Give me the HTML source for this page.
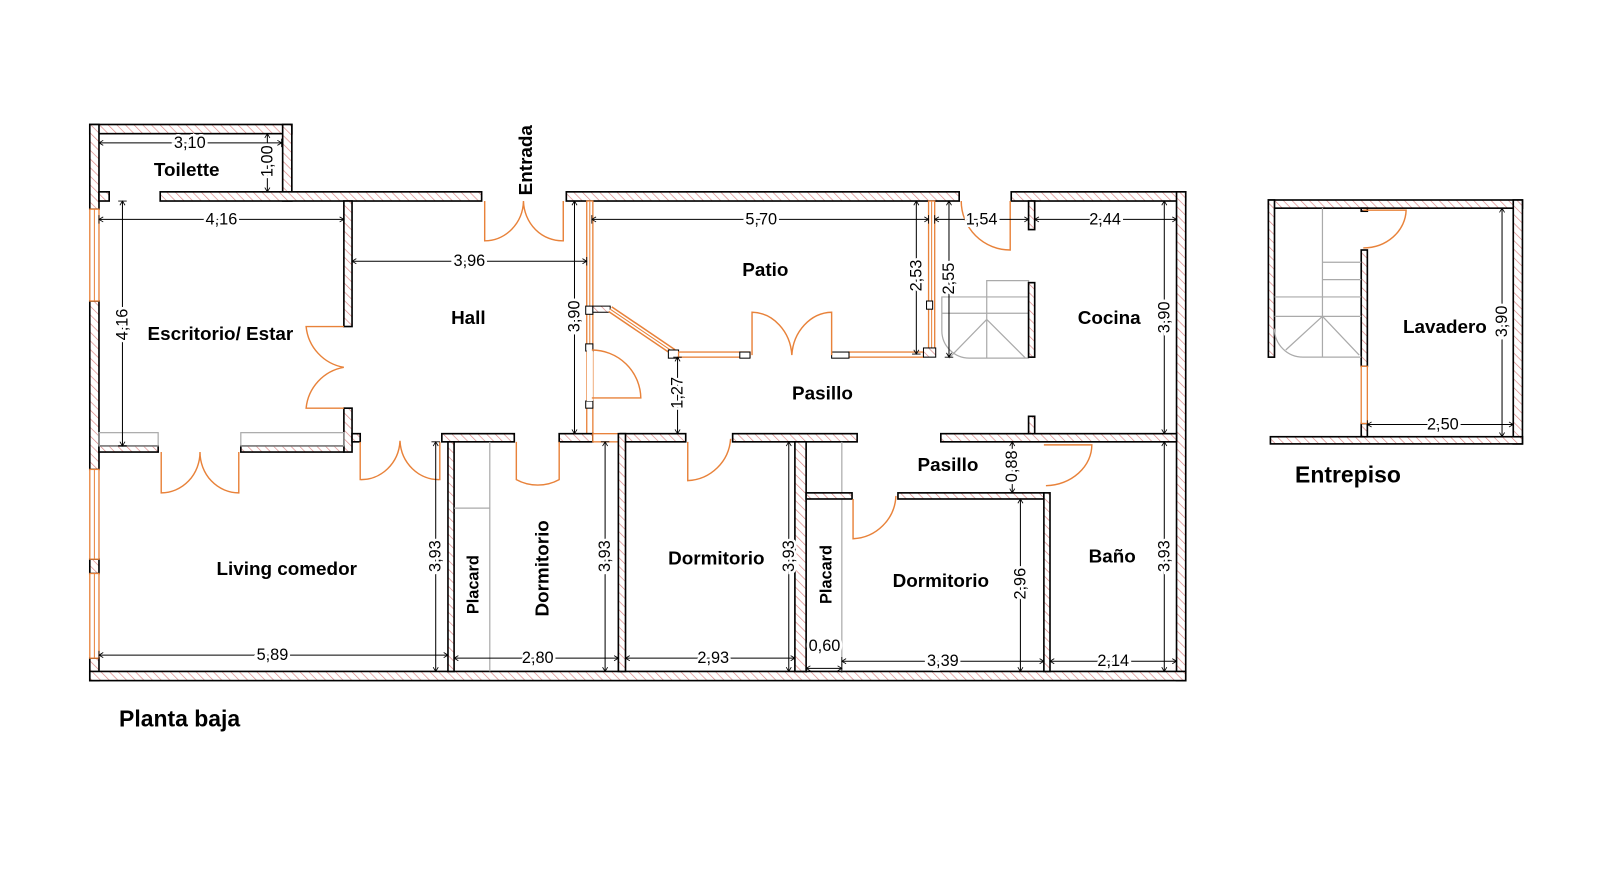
<!DOCTYPE html>
<html><head><meta charset="utf-8"><style>
html,body{margin:0;padding:0;background:#fff;}
svg{display:block;}
text{font-family:"Liberation Sans",Arial,sans-serif;}
.w{fill:url(#h);stroke:#000;stroke-width:1.6;}
.win{fill:#fff;stroke:#e8823a;stroke-width:1.3;}
.d{fill:none;stroke:#e8823a;stroke-width:1.4;}
.g{fill:none;stroke:#aaa;stroke-width:1.2;}
.dim{stroke:#000;stroke-width:1;fill:none;marker-start:url(#a);marker-end:url(#a);}
.lb{font-weight:bold;font-size:18.5px;text-anchor:middle;dominant-baseline:central;}
.dt{font-size:16px;text-anchor:middle;dominant-baseline:central;stroke:#fff;stroke-width:5px;paint-order:stroke;fill:#000;}
</style></head><body>
<svg width="1600" height="880" viewBox="0 0 1568 862.4" xmlns="http://www.w3.org/2000/svg">
<defs>
<pattern id="h" patternUnits="userSpaceOnUse" width="6" height="6" patternTransform="rotate(-45)">
<rect width="6" height="6" fill="#fff"/><line x1="0" y1="0" x2="0" y2="6" stroke="#d98585" stroke-width="1.3"/></pattern>
<marker id="a" viewBox="-6 -6 12 12" markerWidth="10" markerHeight="10" orient="auto-start-reverse" markerUnits="userSpaceOnUse"><path d="M-5,-3 L0,0 L-5,3 M0,-5 L0,5" stroke="#000" stroke-width="1" fill="none"/></marker>
</defs>

<!-- OUTER WALLS -->
<rect class="w" x="88" y="122" width="198" height="9"/>
<rect class="w" x="277" y="122" width="9" height="75"/>
<rect class="w" x="88" y="122" width="9" height="83"/>
<rect class="w" x="88" y="295" width="9" height="165"/>
<rect class="w" x="88" y="548" width="9" height="14"/>
<rect class="w" x="88" y="645" width="9" height="22"/>
<rect class="win" x="88" y="205" width="9" height="90"/><line x1="92.5" y1="205" x2="92.5" y2="295" stroke="#e8823a"/>
<rect class="win" x="88" y="460" width="9" height="88"/><line x1="92.5" y1="460" x2="92.5" y2="548" stroke="#e8823a"/>
<rect class="win" x="88" y="562" width="9" height="83"/><line x1="92.5" y1="562" x2="92.5" y2="645" stroke="#e8823a"/>
<rect class="w" x="97" y="188" width="10" height="9"/>
<rect class="w" x="157" y="188" width="315" height="9"/>
<rect class="w" x="555" y="188" width="385" height="9"/>
<rect class="w" x="991" y="188" width="171" height="9"/>
<rect class="w" x="1153" y="188" width="9" height="479"/>
<rect class="w" x="88" y="658" width="1074" height="9"/>

<!-- Escritorio / hall -->
<rect class="w" x="337" y="197" width="8" height="123"/>
<rect class="w" x="337" y="400" width="8" height="43"/>
<rect class="w" x="345" y="425" width="8" height="8"/>
<path class="d" d="M337,320 L300,320 A45,45 0 0 0 337,360 M337,400 L300,400 A45,45 0 0 1 337,360"/>
<rect class="w" x="97" y="437" width="58" height="6"/>
<rect class="w" x="236" y="437" width="101" height="6"/>
<rect x="97" y="424" width="58" height="13" class="g"/>
<rect x="236" y="424" width="101" height="13" class="g"/>
<path class="d" d="M158,443 L158,483 A38,40 0 0 0 196,443 M234,443 L234,483 A38,40 0 0 1 196,443"/>
<path class="d" d="M353,433 L353,470 A38,40 0 0 0 392,432 M431,433 L431,470 A38,40 0 0 1 392,432"/>
<!-- Entrada door -->
<path class="d" d="M475,197 L475,236 A38,40 0 0 0 513,197 M552,197 L552,236 A38,40 0 0 1 513,197"/>

<!-- Hall right wall / window -->
<rect class="win" x="575" y="197" width="6" height="228"/><line x1="578" y1="197" x2="578" y2="343" stroke="#e8823a"/>
<rect x="574" y="300" width="7" height="8" fill="#fff" stroke="#000"/>
<rect x="574" y="337" width="7" height="7" fill="#fff" stroke="#000"/>
<rect x="574" y="393" width="7" height="7" fill="#fff" stroke="#000"/>
<rect x="575" y="343" width="6" height="50" fill="#fff"/>
<path class="d" d="M580,343 A48,48 0 0 1 628,390 L580,390"/>
<rect class="w" x="548" y="425" width="33" height="8"/>
<rect class="win" x="581" y="425" width="27" height="8"/>
<!-- Patio -->
<rect x="581" y="300" width="17" height="6" fill="url(#h)" stroke="#000"/>
<path d="M598,303 L660,345" stroke="#e8823a" stroke-width="7"/><path d="M598,303 L660,345" stroke="#fff" stroke-width="4"/><path d="M598,303 L660,345" stroke="#e8823a" stroke-width="1"/>
<rect x="655" y="343" width="10" height="8" fill="#fff" stroke="#000"/>
<rect class="win" x="665" y="345" width="70" height="5"/>
<rect x="725" y="345" width="10" height="6" fill="#fff" stroke="#000"/>
<rect class="win" x="832" y="345" width="73" height="5"/>
<rect x="815" y="345" width="17" height="6" fill="#fff" stroke="#000"/>
<path class="d" d="M737,348 L737,306 A40,45 0 0 1 776,348 M815,348 L815,306 A40,45 0 0 0 776,348"/>
<rect class="win" x="910" y="197" width="6" height="150"/><line x1="913" y1="197" x2="913" y2="347" stroke="#e8823a"/>
<rect x="908" y="295" width="6" height="8" fill="#fff" stroke="#000"/>
<rect x="905" y="341" width="12" height="9" fill="url(#h)" stroke="#000"/>
<!-- Cocina door -->
<path class="d" d="M990,197 L990,245 A48,48 0 0 1 942,197"/>
<rect class="w" x="1008" y="197" width="6" height="28"/>
<!-- stair -->
<path class="g" d="M967,291 L967,275 L1008,275 L1008,291 M923,291 L1008,291 L1008,351 L950,351 A27,27 0 0 1 923,324 Z M923,307 L1008,307 M967,291 L967,351 M967,313 L930,351 M967,313 L1005,351"/>
<rect class="w" x="1008" y="277" width="6" height="73"/>

<!-- Pasillo bottom walls -->
<rect class="w" x="433" y="425" width="71" height="8"/>
<rect class="w" x="608" y="425" width="64" height="8"/>
<rect class="w" x="718" y="425" width="122" height="8"/>
<rect class="w" x="922" y="425" width="231" height="8"/>
<rect class="w" x="1008" y="408" width="6" height="17"/>
<path class="d" d="M506,433 L506,470 A42,40 0 0 0 548,470 L548,433"/>
<path class="d" d="M674,433 L674,471 A44,44 0 0 0 716,430"/>
<!-- rooms vertical walls -->
<rect class="w" x="439" y="433" width="6" height="225"/>
<line class="g" x1="480" y1="433" x2="480" y2="658"/><line class="g" x1="445" y1="498" x2="480" y2="498"/>
<rect class="w" x="606" y="425" width="7" height="233"/>
<rect class="w" x="779" y="433" width="11" height="225"/>
<line class="g" x1="825" y1="433" x2="825" y2="658"/>
<rect class="w" x="790" y="483" width="45" height="6"/>
<path class="d" d="M836,489 L836,528 A44,44 0 0 0 878,486"/>
<rect class="w" x="880" y="483" width="143" height="6"/>
<rect class="w" x="1023" y="483" width="6" height="175"/>
<path class="d" d="M1023,436 L1070,436 A47,40 0 0 1 1025,476"/>

<!-- Entrepiso -->
<rect class="w" x="1243" y="196" width="249" height="8"/>
<rect class="w" x="1243" y="196" width="6" height="154"/>
<rect class="w" x="1483" y="196" width="9" height="239"/>
<rect class="w" x="1245" y="428" width="247" height="7"/>
<rect class="w" x="1334" y="245" width="6" height="114"/>
<rect class="w" x="1334" y="415" width="6" height="13"/>
<rect class="win" x="1334" y="359" width="6" height="56"/>
<rect class="w" x="1334" y="204" width="6" height="3"/>
<path class="d" d="M1336,206 L1378,206 A42,38 0 0 1 1336,243"/>
<path class="g" d="M1296,204 L1296,350 M1296,257 L1334,257 M1296,274 L1334,274 M1249,291 L1334,291 M1249,310 L1334,310 M1296,310 L1260,343 M1296,310 L1332,348 M1249,322 A28,28 0 0 0 1277,350 L1334,350"/>

<!-- DIMENSIONS -->
<line class="dim" x1="97" y1="140" x2="276" y2="140"/><text class="dt" x="186" y="140">3,10</text>
<line class="dim" x1="262" y1="131" x2="262" y2="188"/><text class="dt" transform="translate(262,158) rotate(-90)">1,00</text>
<line class="dim" x1="97" y1="215" x2="337" y2="215"/><text class="dt" x="217" y="215">4,16</text>
<line class="dim" x1="120" y1="197" x2="120" y2="437"/><text class="dt" transform="translate(120,318) rotate(-90)">4,16</text>
<line class="dim" x1="345" y1="256" x2="575" y2="256"/><text class="dt" x="460" y="256">3,96</text>
<line class="dim" x1="563" y1="197" x2="563" y2="425"/><text class="dt" transform="translate(563,310) rotate(-90)">3,90</text>
<line class="dim" x1="580" y1="215" x2="910" y2="215"/><text class="dt" x="746" y="215">5,70</text>
<line class="dim" x1="898" y1="197" x2="898" y2="347"/><text class="dt" transform="translate(898,270) rotate(-90)">2,53</text>
<line class="dim" x1="930" y1="197" x2="930" y2="350"/><text class="dt" transform="translate(930,273) rotate(-90)">2,55</text>
<line class="dim" x1="916" y1="215" x2="1008" y2="215"/><text class="dt" x="962" y="215">1,54</text>
<line class="dim" x1="1014" y1="215" x2="1153" y2="215"/><text class="dt" x="1083" y="215">2,44</text>
<line class="dim" x1="1141" y1="197" x2="1141" y2="425"/><text class="dt" transform="translate(1141,311) rotate(-90)">3,90</text>
<line class="dim" x1="664" y1="350" x2="664" y2="425"/><text class="dt" transform="translate(664,385) rotate(-90)">1,27</text>
<line class="dim" x1="992" y1="433" x2="992" y2="483"/><text class="dt" transform="translate(992,457) rotate(-90)">0,88</text>
<line class="dim" x1="427" y1="433" x2="427" y2="658"/><text class="dt" transform="translate(427,545) rotate(-90)">3,93</text>
<line class="dim" x1="97" y1="642" x2="439" y2="642"/><text class="dt" x="267" y="642">5,89</text>
<line class="dim" x1="445" y1="645" x2="606" y2="645"/><text class="dt" x="527" y="645">2,80</text>
<line class="dim" x1="593" y1="433" x2="593" y2="658"/><text class="dt" transform="translate(593,545) rotate(-90)">3,93</text>
<line class="dim" x1="613" y1="645" x2="779" y2="645"/><text class="dt" x="699" y="645">2,93</text>
<line class="dim" x1="773" y1="433" x2="773" y2="658"/><text class="dt" transform="translate(773,545) rotate(-90)">3,93</text>
<line class="dim" x1="790" y1="655" x2="825" y2="655"/><text class="dt" x="808" y="633">0,60</text>
<line class="dim" x1="825" y1="648" x2="1023" y2="648"/><text class="dt" x="924" y="648">3,39</text>
<line class="dim" x1="1000" y1="489" x2="1000" y2="658"/><text class="dt" transform="translate(1000,572) rotate(-90)">2,96</text>
<line class="dim" x1="1029" y1="648" x2="1153" y2="648"/><text class="dt" x="1091" y="648">2,14</text>
<line class="dim" x1="1141" y1="433" x2="1141" y2="658"/><text class="dt" transform="translate(1141,545) rotate(-90)">3,93</text>
<line class="dim" x1="1472" y1="204" x2="1472" y2="428"/><text class="dt" transform="translate(1472,315) rotate(-90)">3,90</text>
<line class="dim" x1="1340" y1="416" x2="1483" y2="416"/><text class="dt" x="1414" y="416">2,50</text>

<!-- LABELS -->
<text class="lb" x="183" y="166">Toilette</text>
<text class="lb" transform="translate(515,157) rotate(-90)">Entrada</text>
<text class="lb" x="216" y="327">Escritorio/ Estar</text>
<text class="lb" x="459" y="311">Hall</text>
<text class="lb" x="750" y="264">Patio</text>
<text class="lb" x="1087" y="311">Cocina</text>
<text class="lb" x="806" y="385">Pasillo</text>
<text class="lb" x="929" y="455">Pasillo</text>
<text class="lb" x="281" y="557">Living comedor</text>
<text class="lb" style="font-size:16px" transform="translate(464,573) rotate(-90)">Placard</text>
<text class="lb" transform="translate(531,557) rotate(-90)">Dormitorio</text>
<text class="lb" x="702" y="547">Dormitorio</text>
<text class="lb" style="font-size:16px" transform="translate(810,563) rotate(-90)">Placard</text>
<text class="lb" x="922" y="569">Dormitorio</text>
<text class="lb" x="1090" y="545">Baño</text>
<text class="lb" x="1416" y="320">Lavadero</text>
<text class="lb" style="font-size:22.5px" x="1321" y="465">Entrepiso</text>
<text class="lb" style="font-size:22.5px" x="176" y="704">Planta baja</text>
</svg>
</body></html>
